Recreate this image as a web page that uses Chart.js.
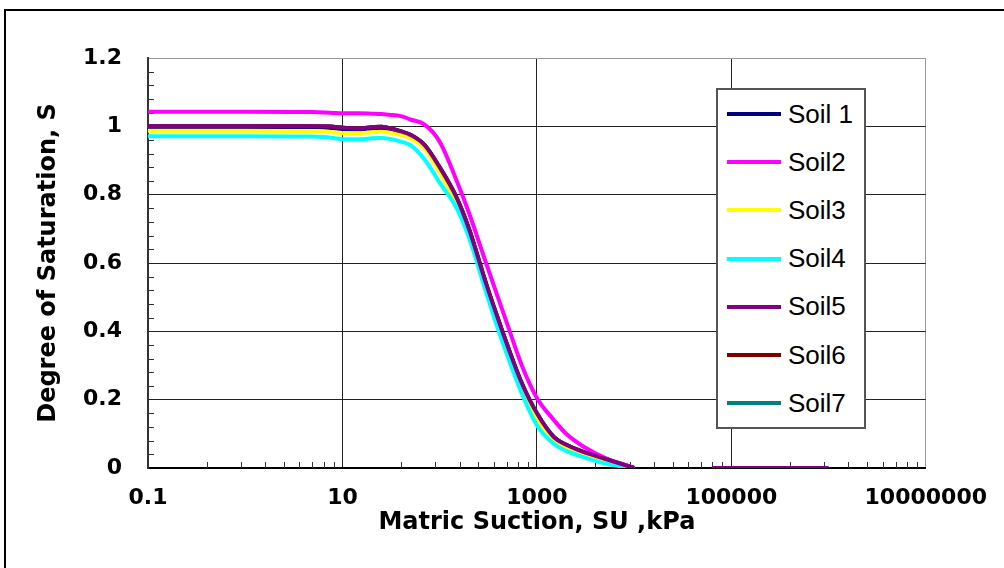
<!DOCTYPE html>
<html>
<head>
<meta charset="utf-8">
<script src="https://cdn.jsdelivr.net/npm/chart.js@4.4.1/dist/chart.umd.min.js"></script>
<style>
  body { margin: 0; background: #fff; }
  #wrap { position: relative; width: 1004px; height: 568px; overflow: hidden; }
  #legend {
    position: absolute; left: 716px; top: 88px; width: 146px; height: 337px;
    border: 2px solid #555; background: #fff;
    font-family: 'Liberation Sans', Arial, sans-serif; font-size: 26px; color: #000;
  }
  .row { height: 48.2px; display: flex; align-items: center; }
  .swatch { width: 54px; height: 4px; margin-left: 9px; margin-right: 7px; }
</style>
</head>
<body>
<div id="wrap">
  <canvas id="chart" width="1004" height="568"></canvas>
  <div id="legend"></div>
</div>
<script>
// matric suction (kPa)
var suction = [0.1, 1, 5, 8, 10, 15, 20, 25, 30, 40, 50, 70, 100, 150, 200, 300, 400, 500, 700, 1000, 1500, 2000, 3000, 5000, 10000, 30000, 63000, 1000000];

var soil1 = [0.997, 0.997, 0.997, 0.995, 0.992, 0.991, 0.994, 0.995, 0.992, 0.984, 0.973, 0.943, 0.875, 0.785, 0.698, 0.535, 0.43, 0.352, 0.242, 0.155, 0.088, 0.066, 0.045, 0.024, 0, null, null, null];
var soil2 = [1.043, 1.043, 1.042, 1.039, 1.038, 1.038, 1.037, 1.036, 1.034, 1.03, 1.02, 1.005, 0.955, 0.84, 0.747, 0.6, 0.497, 0.418, 0.3, 0.205, 0.14, 0.1, 0.063, 0.03, 0, null, null, null];
var soil3 = [0.987, 0.987, 0.986, 0.983, 0.98, 0.98, 0.983, 0.984, 0.982, 0.975, 0.965, 0.935, 0.865, 0.775, 0.69, 0.53, 0.425, 0.345, 0.235, 0.145, 0.085, 0.062, 0.04, 0.02, 0, null, null, null];
var soil4 = [0.971, 0.971, 0.97, 0.966, 0.962, 0.962, 0.965, 0.966, 0.964, 0.955, 0.945, 0.903, 0.835, 0.76, 0.675, 0.515, 0.405, 0.327, 0.218, 0.125, 0.07, 0.05, 0.032, 0.013, 0, null, null, null];
var soil5 = [1.0, 1.0, 1.0, 0.999, 0.996, 0.994, 0.997, 0.999, 0.995, 0.985, 0.975, 0.945, 0.88, 0.79, 0.7, 0.54, 0.435, 0.357, 0.248, 0.16, 0.09, 0.068, 0.047, 0.027, 0, null, 0, 0];
var soil6 = [1.0, 1.0, 1.0, 0.999, 0.996, 0.994, 0.997, 0.999, 0.995, 0.985, 0.975, 0.945, 0.88, 0.79, 0.7, 0.54, 0.435, 0.357, 0.248, 0.16, 0.09, 0.068, 0.047, 0.027, 0, null, null, null];
var soil7 = [1.0, 1.0, 1.0, 0.999, 0.996, 0.994, 0.997, 0.999, 0.995, 0.985, 0.975, 0.945, 0.88, 0.79, 0.7, 0.54, 0.435, 0.357, 0.248, 0.16, 0.09, 0.068, 0.047, 0.027, 0, null, null, null];

var soilNames = ['Soil 1', 'Soil2', 'Soil3', 'Soil4', 'Soil5', 'Soil6', 'Soil7'];
var soilColors = ['#000080', '#ff00ff', '#ffff00', '#00ffff', '#800080', '#800000', '#008080'];
var drawOrder = [4, 1, 3, 2, 0, 5, 6];   // lower = drawn on top

var xMajor = [0.1, 10, 1000, 100000, 10000000];
var yMax = 1.2, yStep = 0.2;

var tickFont = { family: "'DejaVu Sans', sans-serif", size: 22, weight: 'bold' };
var titleFont = { family: "'DejaVu Sans', sans-serif", size: 24, weight: 'bold' };

function points(vals) {
    return suction.map(function (s, i) { return { x: s, y: vals[i] }; });
}

var allSoils = [soil1, soil2, soil3, soil4, soil5, soil6, soil7];

// white background + outer frame of the chart object
var framePlugin = {
    id: 'frame',
    beforeDraw: function (chart) {
        var ctx = chart.ctx;
        ctx.save();
        ctx.fillStyle = '#fff';
        ctx.fillRect(0, 0, chart.width, chart.height);
        ctx.strokeStyle = '#000';
        ctx.lineWidth = 2;
        ctx.strokeRect(5, 10, 1300, 900);
        ctx.restore();
    }
};

// small inside tick marks like the excel chart
var minorTicks = {
    id: 'minorTicks',
    beforeDatasetsDraw: function (chart) {
        var ctx = chart.ctx, area = chart.chartArea;
        var x = chart.scales.x, y = chart.scales.y;
        ctx.save();
        ctx.strokeStyle = '#333';
        ctx.lineWidth = 1;
        ctx.beginPath();
        for (var i = 1; i < 30; i++) {
            if (i % 5 === 0) continue;
            var py = Math.round(y.getPixelForValue(i * 0.04)) + 0.5;
            ctx.moveTo(area.left, py);
            ctx.lineTo(area.left + 6, py);
        }
        xMajor.slice(0, -1).forEach(function (m) {
            for (var k = 2; k <= 9; k++) {
                var px = Math.round(x.getPixelForValue(m * k * k)) + 0.5;
                ctx.moveTo(px, area.bottom);
                ctx.lineTo(px, area.bottom - 6);
            }
        });
        ctx.stroke();
        ctx.restore();
    }
};

var ctx = document.getElementById('chart').getContext('2d');
var chart = new Chart(ctx, {
    type: 'line',
    data: {
        datasets: soilNames.map(function (name, i) {
            return {
                label: name,
                data: points(allSoils[i]),
                borderColor: soilColors[i],
                backgroundColor: soilColors[i],
                borderWidth: 4,
                pointRadius: 0,
                fill: false,
                cubicInterpolationMode: 'monotone',
                spanGaps: false,
                order: drawOrder[i]
            };
        })
    },
    options: {
        responsive: false,
        animation: false,
        devicePixelRatio: 1,
        layout: { padding: { top: 58, right: 77, left: 0, bottom: 0 } },
        plugins: { legend: { display: false }, tooltip: { enabled: false } },
        scales: {
            x: {
                type: 'logarithmic',
                min: 0.1,
                max: 10000000,
                afterBuildTicks: function (scale) {
                    scale.ticks = xMajor.map(function (v) { return { value: v, major: true }; });
                },
                afterFit: function (scale) { scale.height = 100; },
                ticks: {
                    autoSkip: false,
                    maxRotation: 0,
                    padding: 17,
                    color: '#000',
                    font: tickFont,
                    callback: function (v) { return String(v); }
                },
                grid: {
                    drawTicks: false,
                    lineWidth: 1,
                    color: function (c) { return c.tick && c.tick.value === 10000000 ? '#999' : '#222'; }
                },
                border: { display: true, color: '#000', width: 2 },
                title: {
                    display: true,
                    text: 'Matric Suction, SU ,kPa',
                    color: '#000',
                    font: titleFont,
                    padding: { top: 0, bottom: 31 }
                }
            },
            y: {
                min: 0,
                max: yMax,
                afterFit: function (scale) { scale.width = 148; },
                ticks: {
                    stepSize: yStep,
                    padding: 26,
                    color: '#000',
                    font: tickFont,
                    callback: function (v) { return String(+v.toFixed(1)); }
                },
                grid: {
                    drawTicks: false,
                    lineWidth: 1,
                    color: function (c) { return c.tick && Math.abs(c.tick.value - yMax) < 1e-6 ? '#999' : '#222'; }
                },
                border: { display: true, color: '#333', width: 2 },
                title: {
                    display: true,
                    text: 'Degree of Saturation, S',
                    color: '#000',
                    font: titleFont,
                    padding: { top: 34, bottom: 0 }
                }
            }
        }
    },
    plugins: [framePlugin, minorTicks]
});

// legend box drawn in html, built from the chart's datasets
var legend = document.getElementById('legend');
chart.data.datasets.forEach(function (ds) {
    var row = document.createElement('div');
    row.className = 'row';
    var sw = document.createElement('span');
    sw.className = 'swatch';
    sw.style.background = ds.borderColor;
    var txt = document.createElement('span');
    txt.textContent = ds.label;
    row.appendChild(sw);
    row.appendChild(txt);
    legend.appendChild(row);
});
</script>
</body>
</html>
